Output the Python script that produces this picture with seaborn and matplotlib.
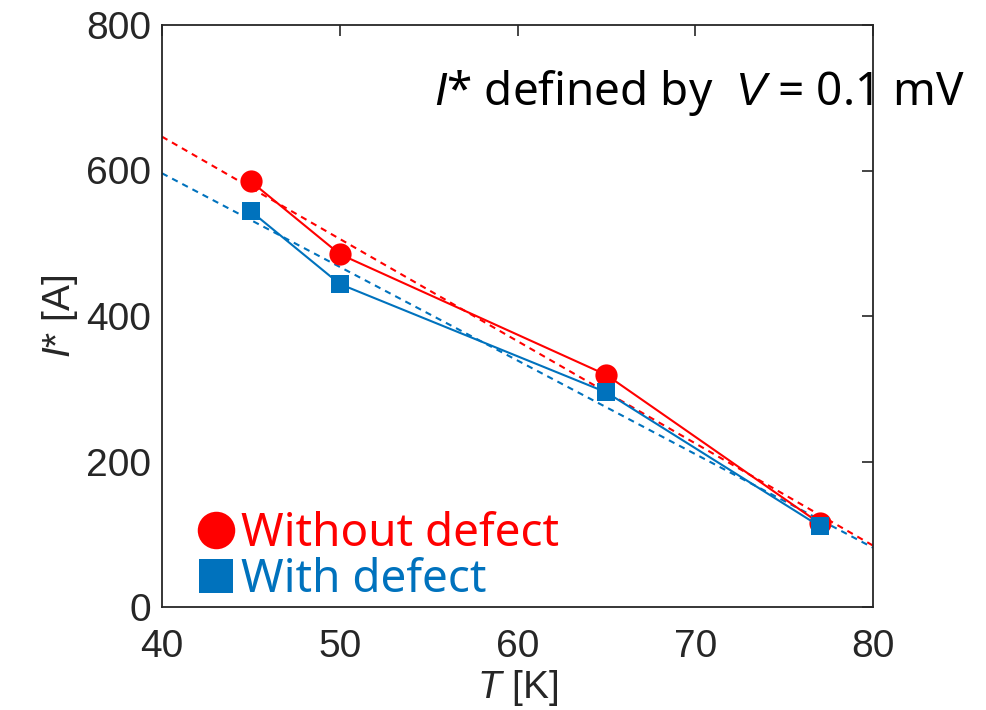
import matplotlib
matplotlib.use("Agg")
import matplotlib.pyplot as plt
from matplotlib.lines import Line2D
import seaborn as sns
import pandas as pd

# Data
temps = [45, 50, 65, 77]
without_defect = [585, 485, 319, 115]
with_defect = [544, 444, 295, 111]
x_ticks = [40, 50, 60, 70, 80]
y_ticks = [0, 200, 400, 600, 800]
red = "#FF0000"
blue = "#0072BD"

sns.set_style("white")
plt.rcParams["font.family"] = ["Liberation Sans", "DejaVu Sans"]
plt.rcParams["mathtext.fontset"] = "custom"
plt.rcParams["mathtext.rm"] = "Liberation Sans"
plt.rcParams["mathtext.it"] = "Liberation Sans:italic"

df_wo = pd.DataFrame({"T": temps, "I": without_defect})
df_w = pd.DataFrame({"T": temps, "I": with_defect})

fig = plt.figure(figsize=(9.87, 7.10), dpi=100)
ax = fig.add_axes([162/987, 1-607/710, (873-162)/987, (607-25)/710])
ax.set_xlim(40, 80)
ax.set_ylim(0, 800)

# Linear fits (dashed)
sns.regplot(data=df_wo, x="T", y="I", ax=ax, scatter=False, ci=None, truncate=False,
            line_kws=dict(color=red, lw=1.5, ls=(0, (3, 2.5))))
sns.regplot(data=df_w, x="T", y="I", ax=ax, scatter=False, ci=None, truncate=False,
            line_kws=dict(color=blue, lw=1.5, ls=(0, (3, 2.5))))

# Data lines with markers
sns.lineplot(data=df_wo, x="T", y="I", ax=ax, color=red, lw=1.5, marker="o",
             markersize=16, markeredgewidth=0, sort=False)
sns.lineplot(data=df_w, x="T", y="I", ax=ax, color=blue, lw=1.5, marker="s",
             markersize=13, markeredgewidth=0, sort=False)

ax.set_xlim(40, 80)
ax.set_ylim(0, 800)
ax.set_xticks(x_ticks)
ax.set_yticks(y_ticks)
ax.tick_params(direction="in", length=8, width=1.2, labelsize=28, colors="#262626",
               top=True, right=True, pad=8)
ax.tick_params(axis="x", pad=16)
for s in ax.spines.values():
    s.set_color("#262626")
    s.set_linewidth(1.3)

ax.set_xlabel(r"$T$ [K]", fontsize=28, color="#262626", labelpad=2)
ax.set_ylabel(r"$I$* [A]", fontsize=28, color="#262626", labelpad=4)

handles = [Line2D([], [], ls="", marker="o", color=red, markersize=27, markeredgewidth=0),
           Line2D([], [], ls="", marker="s", color=blue, markersize=24, markeredgewidth=0)]
leg = ax.legend(handles, ["Without defect", "With defect"], loc="lower left",
                frameon=False, handletextpad=0.05, handlelength=1.0, borderaxespad=0.2,
                labelspacing=0.0, prop=dict(family="Noto Sans", size=33),
                bbox_to_anchor=(0.005, -0.04))
leg.get_texts()[0].set_color(red)
leg.get_texts()[1].set_color(blue)

fig.text(965/987, 1-105/710, r"$I$* defined by  $V$ = 0.1 mV", ha="right", va="baseline",
         fontsize=33, family="Noto Sans", color="black", zorder=10)

fig.savefig("out.png", dpi=100)
